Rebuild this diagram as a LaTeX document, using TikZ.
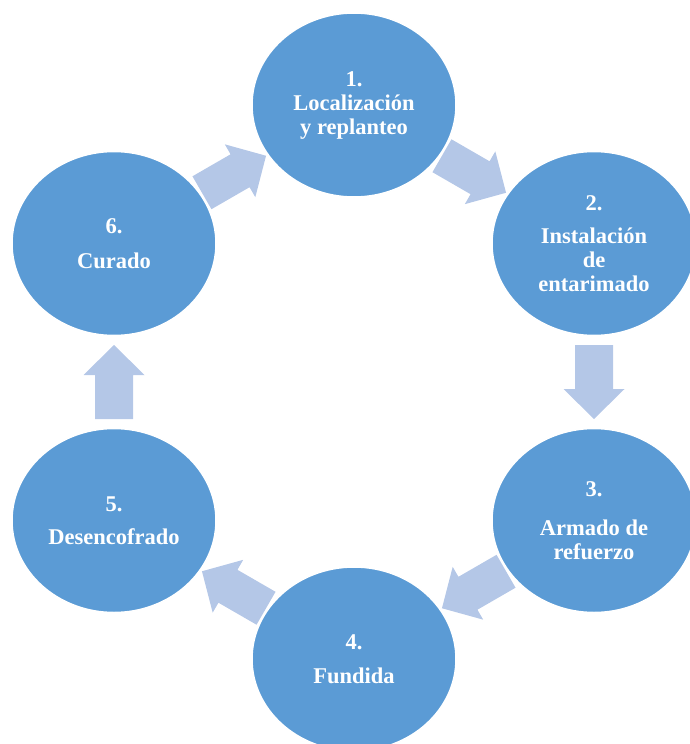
\documentclass[tikz,border=0pt]{standalone}
\usepackage{fontspec}
\setmainfont{Liberation Serif}
\usetikzlibrary{shapes.geometric,calc}
\pgfdeclarelayer{background}
\pgfsetlayers{background,main}
\definecolor{stepblue}{HTML}{5B9BD5}
\definecolor{arrowblue}{HTML}{B4C7E7}
\tikzset{
  stage/.style={ellipse, fill=stepblue, draw=white, line width=1.5pt,
    minimum width=204pt, minimum height=184pt, inner sep=0pt,
    text=white, align=center,
    font=\bfseries\fontsize{22.5}{24}\selectfont},
  pics/blockarrow/.style={code={
    \fill[arrowblue] (-37,-19) -- (7,-19) -- (7,-30.5) -- (37,0)
      -- (7,30.5) -- (7,19) -- (-37,19) -- cycle;}}
}
\begin{document}
\begin{tikzpicture}[x=1pt,y=-1pt]
\useasboundingbox (0,0) rectangle (690,744);
% the six stages on a hexagon
\node[stage] (n1) at (354,105)   {1.\\Localización\\y replanteo};
\node[stage] (n2) at (594,243.5) {2.\\[9pt]Instalación\\de\\entarimado};
\node[stage] (n3) at (594,520.5) {3.\\[15pt]Armado de\\refuerzo};
\node[stage] (n4) at (354,659)   {4.\\[10pt]Fundida};
\node[stage] (n5) at (114,520.5) {5.\\[9pt]Desencofrado};
\node[stage] (n6) at (114,243.5) {6.\\[11pt]Curado};
% block arrows between consecutive stages
\begin{pgfonlayer}{background}
\pic[rotate=-30]  at ($(n1)!0.5!(n2)$) {blockarrow};
\pic[rotate=-90]  at ($(n2)!0.5!(n3)$) {blockarrow};
\pic[rotate=-150] at ($(n3)!0.5!(n4)$) {blockarrow};
\pic[rotate=150]  at ($(n4)!0.5!(n5)$) {blockarrow};
\pic[rotate=90]   at ($(n5)!0.5!(n6)$) {blockarrow};
\pic[rotate=30]   at ($(n6)!0.5!(n1)$) {blockarrow};
\end{pgfonlayer}
\end{tikzpicture}
\end{document}
